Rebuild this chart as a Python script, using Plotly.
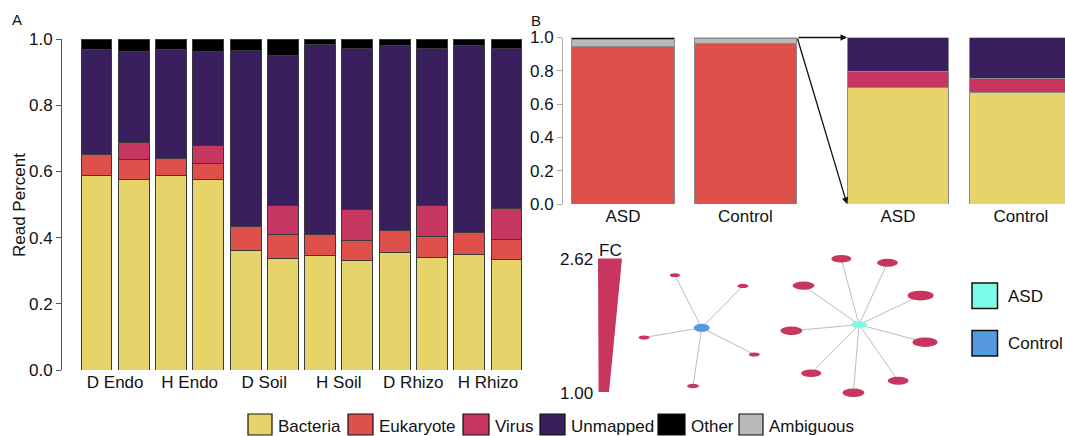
import plotly.graph_objects as go

W, H = 1065, 436
FONT = "Liberation Sans, Arial, sans-serif"

# ---------------- Data ----------------
# Panel A
a_positions = list(range(12))
a_group_labels = ["D Endo", "H Endo", "D Soil", "H Soil", "D Rhizo", "H Rhizo"]
a_group_ticks = [0.5, 2.5, 4.5, 6.5, 8.5, 10.5]
a_bacteria = [0.588, 0.575, 0.589, 0.576, 0.362, 0.337, 0.346, 0.330, 0.355, 0.340, 0.350, 0.335]
a_eukaryote = [0.064, 0.061, 0.050, 0.049, 0.072, 0.071, 0.064, 0.062, 0.067, 0.062, 0.064, 0.059]
a_virus = [0.000, 0.052, 0.000, 0.054, 0.000, 0.089, 0.000, 0.093, 0.000, 0.095, 0.000, 0.095]
a_unmapped = [0.317, 0.275, 0.330, 0.284, 0.531, 0.452, 0.572, 0.487, 0.559, 0.475, 0.567, 0.483]
a_other = [0.031, 0.037, 0.031, 0.037, 0.035, 0.051, 0.018, 0.028, 0.019, 0.028, 0.019, 0.028]

# Panel B (left: all reads, right: zoom of the top fraction)
b_groups = ["ASD", "Control"]
b_eukaryote = [0.945, 0.964]
b_ambiguous = [0.043, 0.030]
b_other = [0.012, 0.006]
bz_bacteria = [0.702, 0.668]
bz_virus = [0.093, 0.085]
bz_unmapped = [0.205, 0.247]

# Network (layout coordinates) and fold change of each satellite node
ctrl_center = (701.7, 327.8)
ctrl_nodes_x = [674.9, 742.9, 644.1, 754.3, 693.0]
ctrl_nodes_y = [275.2, 285.9, 337.5, 354.5, 386.0]
ctrl_fc = [1.0, 1.1, 1.1, 1.1, 1.2]
asd_center = (859.0, 324.7)
asd_nodes_x = [841.3, 887.5, 803.5, 920.6, 791.4, 925.0, 811.2, 898.2, 853.4]
asd_nodes_y = [258.8, 262.8, 285.6, 295.6, 330.8, 342.2, 373.3, 380.7, 392.7]
asd_fc = [2.0, 2.1, 2.2, 2.6, 2.2, 2.5, 2.0, 2.1, 2.2]
fc_min, fc_max = 1.00, 2.62

legend_names = ["Bacteria", "Eukaryote", "Virus", "Unmapped", "Other", "Ambiguous"]

# ---------------- Styles ----------------
COL = {
    "Bacteria": "#E6D46A",
    "Eukaryote": "#DE5049",
    "Virus": "#C73660",
    "Unmapped": "#3A1F5E",
    "Other": "#000000",
    "Ambiguous": "#B9B9B9",
}
ASD_COL = "#7CFCE8"
CTRL_COL = "#5599E0"
NODE_COL = "#C8355F"


def px(x):
    return x / W


def py(y):
    return 1 - y / H


fig = go.Figure()

# Panel A bars
for name, vals in [("Bacteria", a_bacteria), ("Eukaryote", a_eukaryote), ("Virus", a_virus),
                   ("Unmapped", a_unmapped), ("Other", a_other)]:
    fig.add_trace(go.Bar(x=a_positions, y=vals, name=name, width=0.83,
                         marker=dict(color=COL[name], line=dict(color="#3a3a3a", width=1)),
                         xaxis="x", yaxis="y", showlegend=False))

# Panel B left
for name, vals in [("Eukaryote", b_eukaryote), ("Ambiguous", b_ambiguous), ("Other", b_other)]:
    fig.add_trace(go.Bar(x=[0, 1], y=vals, name=name, width=0.838,
                         marker=dict(color=COL[name], line=dict(color="#8a8a8a", width=1)),
                         xaxis="x2", yaxis="y2", showlegend=False))

# Panel B right
for name, vals in [("Bacteria", bz_bacteria), ("Virus", bz_virus), ("Unmapped", bz_unmapped)]:
    fig.add_trace(go.Bar(x=[0, 1], y=vals, name=name, width=0.829,
                         marker=dict(color=COL[name], line=dict(color="#8a8a8a", width=1)),
                         xaxis="x3", yaxis="y3", showlegend=False))

# Network edges
ex, ey = [], []
for cx, cy, xs, ys in [(ctrl_center[0], ctrl_center[1], ctrl_nodes_x, ctrl_nodes_y),
                       (asd_center[0], asd_center[1], asd_nodes_x, asd_nodes_y)]:
    for nx, ny in zip(xs, ys):
        ex += [cx, nx, None]
        ey += [cy, ny, None]
fig.add_trace(go.Scatter(x=ex, y=ey, mode="lines", line=dict(color="#bdbdbd", width=1),
                         xaxis="x4", yaxis="y4", showlegend=False, hoverinfo="skip"))

shapes = []


def ellipse(cx, cy, w, h, color):
    shapes.append(dict(type="circle", xref="x4", yref="y4", x0=cx - w / 2, x1=cx + w / 2,
                       y0=cy - h / 2, y1=cy + h / 2, fillcolor=color, line=dict(width=0),
                       layer="above"))


def fc_width(fc):
    return 10 + (fc - fc_min) * 10


for xs, ys, fcs in [(ctrl_nodes_x, ctrl_nodes_y, ctrl_fc), (asd_nodes_x, asd_nodes_y, asd_fc)]:
    for nx, ny, fc in zip(xs, ys, fcs):
        w = fc_width(fc)
        ellipse(nx, ny, w, w * 0.38, NODE_COL)
ellipse(ctrl_center[0], ctrl_center[1], 16, 8, CTRL_COL)
ellipse(asd_center[0], asd_center[1], 16, 7, ASD_COL)

# FC wedge scale
shapes.append(dict(type="path", xref="x4", yref="y4",
                   path="M 598,258.5 L 622,258.5 L 609,392 L 598.6,392 Z",
                   fillcolor=NODE_COL, line=dict(width=0)))

# Network legend squares
for y0, col in [(283, ASD_COL), (330.5, CTRL_COL)]:
    shapes.append(dict(type="rect", xref="x4", yref="y4", x0=972, x1=997.5, y0=y0, y1=y0 + 25.5,
                       fillcolor=col, line=dict(color="#111", width=1.5)))

annotations = []


def text(x, y, s, xref="paper", yref="paper", xanchor="center", size=17, **kw):
    annotations.append(dict(x=x, y=y, xref=xref, yref=yref, text=s, showarrow=False,
                            xanchor=xanchor, yanchor="middle", borderpad=0,
                            font=dict(family=FONT, size=size, color="#111"), **kw))


text(972 + 35, 296, "ASD", "x4", "y4", "left")
text(972 + 35, 343, "Control", "x4", "y4", "left")
text(593.5, 259.5, "2.62", "x4", "y4", "right")
text(593.5, 393, "1.00", "x4", "y4", "right")
text(610, 250, "FC", "x4", "y4", "center")

# Panel letters and y title
text(px(17), py(20), "A", size=15)
text(px(536), py(21), "B", size=15)
text(px(19), py(205), "Read Percent", textangle=-90)

# Bottom legend
legend_pos = [(248, 272), (348, 373), (463, 489), (540, 565), (658, 685), (739, 763)]
for name, (x0, x1) in zip(legend_names, legend_pos):
    shapes.append(dict(type="rect", xref="paper", yref="paper", x0=px(x0), x1=px(x1),
                       y0=py(435), y1=py(414), fillcolor=COL[name],
                       line=dict(color="#111", width=1.2)))
    text(px(x1 + 5), py(426), name, xanchor="left")

# Arrows from the top of the Control bar to the zoomed bars
for yv, ay in [(1.0, 0), (0.0, -167)]:
    annotations.append(dict(x=-0.4146, y=yv, xref="x3", yref="y3", ax=-50, ay=ay,
                            axref="pixel", ayref="pixel", showarrow=True, text="",
                            arrowhead=2, arrowsize=1, arrowwidth=1.3, arrowcolor="#111",
                            standoff=0, startstandoff=0))

tickfont = dict(family=FONT, size=17, color="#111")
common_y = dict(range=[0, 1], tickvals=[0, 0.2, 0.4, 0.6, 0.8, 1.0], tickformat=".1f",
                ticks="outside", ticklen=5, showgrid=False, zeroline=False, showline=True,
                linewidth=1, tickfont=tickfont, fixedrange=True, automargin=False)
common_x = dict(ticks="", showgrid=False, zeroline=False, showline=False, tickfont=tickfont,
                automargin=False, fixedrange=True)

fig.update_layout(
    width=W, height=H, margin=dict(l=0, r=0, t=0, b=0, pad=0, autoexpand=False),
    paper_bgcolor="white", plot_bgcolor="rgba(0,0,0,0)",
    barmode="stack", showlegend=False, hovermode=False,
    font=dict(family=FONT, size=17, color="#111"),
    xaxis=dict(domain=[px(62), px(530)], range=[-0.926, 11.63], tickvals=a_group_ticks,
               ticktext=a_group_labels, anchor="y", **common_x),
    yaxis=dict(domain=[py(370), py(39)], linecolor="#555", tickcolor="#555", anchor="x",
               **common_y),
    xaxis2=dict(domain=[px(563), px(800)], range=[-0.49, 1.446], tickvals=[0, 1],
                ticktext=b_groups, anchor="y2", **common_x),
    yaxis2=dict(domain=[py(204), py(37.5)], linecolor="#aaa", tickcolor="#aaa", anchor="x2",
                **common_y),
    xaxis3=dict(domain=[px(840), 1.0], range=[-0.4715, 1.358], tickvals=[0, 1],
                ticktext=b_groups, anchor="y3", **common_x),
    yaxis3=dict(domain=[py(204), py(37.5)], range=[0, 1], visible=False, anchor="x3"),
    xaxis4=dict(domain=[px(560), 1.0], range=[560, 1065], visible=False, anchor="y4"),
    yaxis4=dict(domain=[0, py(240)], range=[436, 240], visible=False, anchor="x4"),
    shapes=shapes, annotations=annotations,
)

fig.write_html("out.html", config={"displayModeBar": False, "staticPlot": True},
               post_script="document.body.style.margin='0';")
